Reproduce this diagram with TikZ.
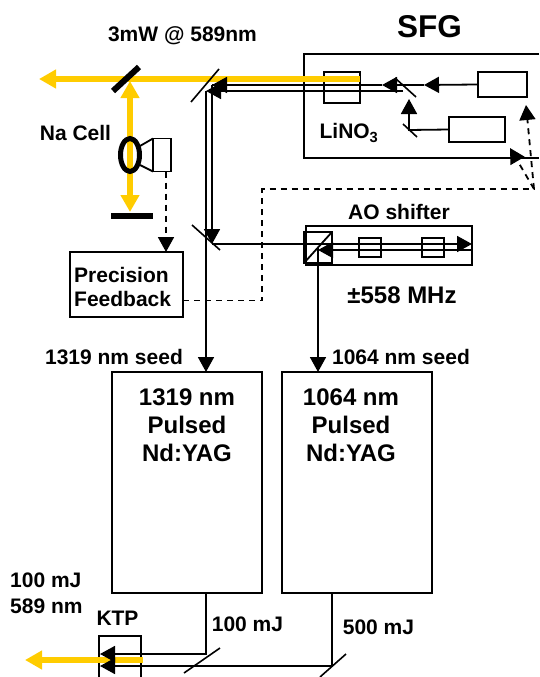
\documentclass[tikz,border=0pt]{standalone}
\usepackage{fontspec}
\setmainfont{Liberation Sans}
\usetikzlibrary{arrows.meta}
\definecolor{beamyellow}{RGB}{255,204,0}
\tikzset{
  box/.style={draw,line width=1.8pt,inner sep=0pt,outer sep=0pt},
  lbl/.style={font=\bfseries\fontsize{21}{24}\selectfont,inner sep=0pt},
  biglbl/.style={font=\bfseries\fontsize{24}{28}\selectfont,inner sep=0pt,align=center},
  wire/.style={line width=1.8pt},
  tip/.style={wire,-{Triangle[length=15pt,width=16pt]}},
  fb/.style={line width=1.8pt,dashed,dash pattern=on 6pt off 5pt},
  fbtip/.style={fb,-{Triangle[length=15pt,width=16pt]}},
  mirror/.style={line width=1.6pt},
  yel/.style={beamyellow,line width=6pt},
}
\begin{document}
\begin{tikzpicture}[x=1pt,y=-1pt]
\useasboundingbox (0,0) rectangle (539,677);

% SFG housing, runs off the right edge
\coordinate (sfgTR) at (539,54);
\coordinate (sfgBR) at (539,158);
\draw[wire] (sfgTR) -- (304,54) -- (304,158) -- (sfgBR);

% Boxes
\node[box,minimum width=36pt,minimum height=31pt] (crystal) at (342,87.5) {};
\node[box,minimum width=49pt,minimum height=25pt] (laserA) at (502.5,84.5) {};
\node[box,minimum width=56pt,minimum height=25pt] (laserB) at (477,129.5) {};
\node[box,minimum width=18pt,minimum height=33pt] (detector) at (162,155) {};
\node[box,minimum width=113pt,minimum height=65pt] (feedback) at (126.5,284.5) {};
\node[box,minimum width=166pt,minimum height=39pt] (aobox) at (389,245.5) {};
\node[box,minimum width=28pt,minimum height=31pt] (cube) at (318,247.5) {};
\node[box,minimum width=22pt,minimum height=19pt] (aoA) at (370,247.5) {};
\node[box,minimum width=22pt,minimum height=19pt] (aoB) at (433,247.5) {};
\node[box,minimum width=150pt,minimum height=221pt] (yag1319) at (187,482.5) {};
\node[box,minimum width=150pt,minimum height=221pt] (yag1064) at (357,482.5) {};

% KTP crystal, cut by the lower edge
\coordinate (ktpBL) at (99,677);
\coordinate (ktpBR) at (141,677);
\draw[wire] (ktpBL) -- (99,636) -- (141,636) -- (ktpBR);

% Yellow beams
\coordinate (outA) at (39,79);
\coordinate (splitA) at (130,79);
\coordinate (endA) at (130,212);
\coordinate (outB) at (25,660);
\draw[yel,-{Triangle[length=17pt,width=18pt]}] (crystal.east |- 0,79) -- (outA);
\draw[yel,{Triangle[length=17pt,width=18pt]}-{Triangle[length=17pt,width=18pt]}] (130,81) -- (endA);
\draw[yel,-{Triangle[length=17pt,width=18pt]}] (143,660) -- (outB);

% Na cell and its optics
\draw[line width=6pt] (113,91) -- (139,67);
\draw[line width=6pt] (111,215.5) -- (153,215.5);
\draw[line width=5pt] (130,155) ellipse (9.5pt and 16.5pt);
\draw[wire] (140,146) -- (detector.north west);
\draw[wire] (140,165) -- (detector.south west);

% Thin mirrors
\draw[mirror] (191,102) -- (219,69);
\draw[mirror] (192,225) -- (220,250);
\draw[mirror] (395,78) -- (416,97);
\draw[mirror] (403,124) -- (417,137);
\draw[mirror] (184,673) -- (220,648);
\draw[mirror] (320,677) -- (346,654);

% Light inside the SFG
\coordinate (foldA) at (397,85);
\coordinate (foldB) at (409,130);
\draw[tip] (laserA.west) -- (424,85);
\draw[tip] (424,85) -- (382,85);
\draw[wire] (382,85) -- (212,85);
\draw[tip] (230,85) -- (212,85);
\draw[tip] (laserB.west) -- (foldB) -- (409,99);

% Seed lines
\coordinate (fold1319) at (212,244);
\draw[tip] (403,91) -- (206,91);
\draw[tip] (206,91) -- (206,372);
\draw[tip] (212,85) -- (212,244);
\draw[tip] (fold1319) -- (472,244);
\draw[tip] (472,250) -- (318,250);
\draw[wire] (cube.south west) -- (cube.north east);
\draw[tip] (318,248) -- (318,372);

% Pulsed outputs
\coordinate (turn1319) at (206,654);
\coordinate (turn1064) at (332,666);
\draw[tip] (yag1319.south -| turn1319) -- (turn1319) -- (100,654);
\draw[tip] (yag1064.south -| turn1064) -- (turn1064) -- (100,666);

% Feedback lines
\coordinate (fbcornerA) at (262,300.5);
\coordinate (fbcornerB) at (262,189);
\coordinate (fbfork) at (534,189);
\draw[fbtip] (detector.south -| 166,0) -- (166,252);
\draw[fb] (feedback.east |- fbcornerA) -- (fbcornerA) -- (fbcornerB) -- (fbfork);
\draw[fbtip] (fbfork) -- (526,105);
\draw[fbtip] (fbfork) -- (510,148);

% Labels
\node[lbl] (power) at (182.5,36) {3mW @ 589nm};
\node[font=\bfseries\fontsize{31.5}{34}\selectfont,inner sep=0pt] (sfg) at (429.5,27) {SFG};
\node[lbl] (nacell) at (75.5,133) {Na Cell};
\node[lbl] (lino) at (349,133) {LiNO\textsubscript{3}};
\node[lbl,align=left,anchor=west] (fbtext) at (74,287) {Precision\\Feedback};
\node[lbl] (aolabel) at (399,212) {AO shifter};
\node[biglbl] (shift) at (402,295) {±558 MHz};
\node[lbl] (seedA) at (114,357) {1319 nm seed};
\node[lbl] (seedB) at (401,357) {1064 nm seed};
\node[biglbl] (textA) at (187,425) {1319 nm\\Pulsed\\Nd:YAG};
\node[biglbl] (textB) at (351,425) {1064 nm\\Pulsed\\Nd:YAG};
\node[lbl,align=left,anchor=west,font=\bfseries\fontsize{21}{26}\selectfont] (outtext) at (10,593) {100 mJ\\589 nm};
\node[lbl] (ktp) at (117.5,618) {KTP};
\node[lbl] (mjA) at (247.5,624) {100 mJ};
\node[lbl] (mjB) at (378.5,627) {500 mJ};
\end{tikzpicture}
\end{document}
